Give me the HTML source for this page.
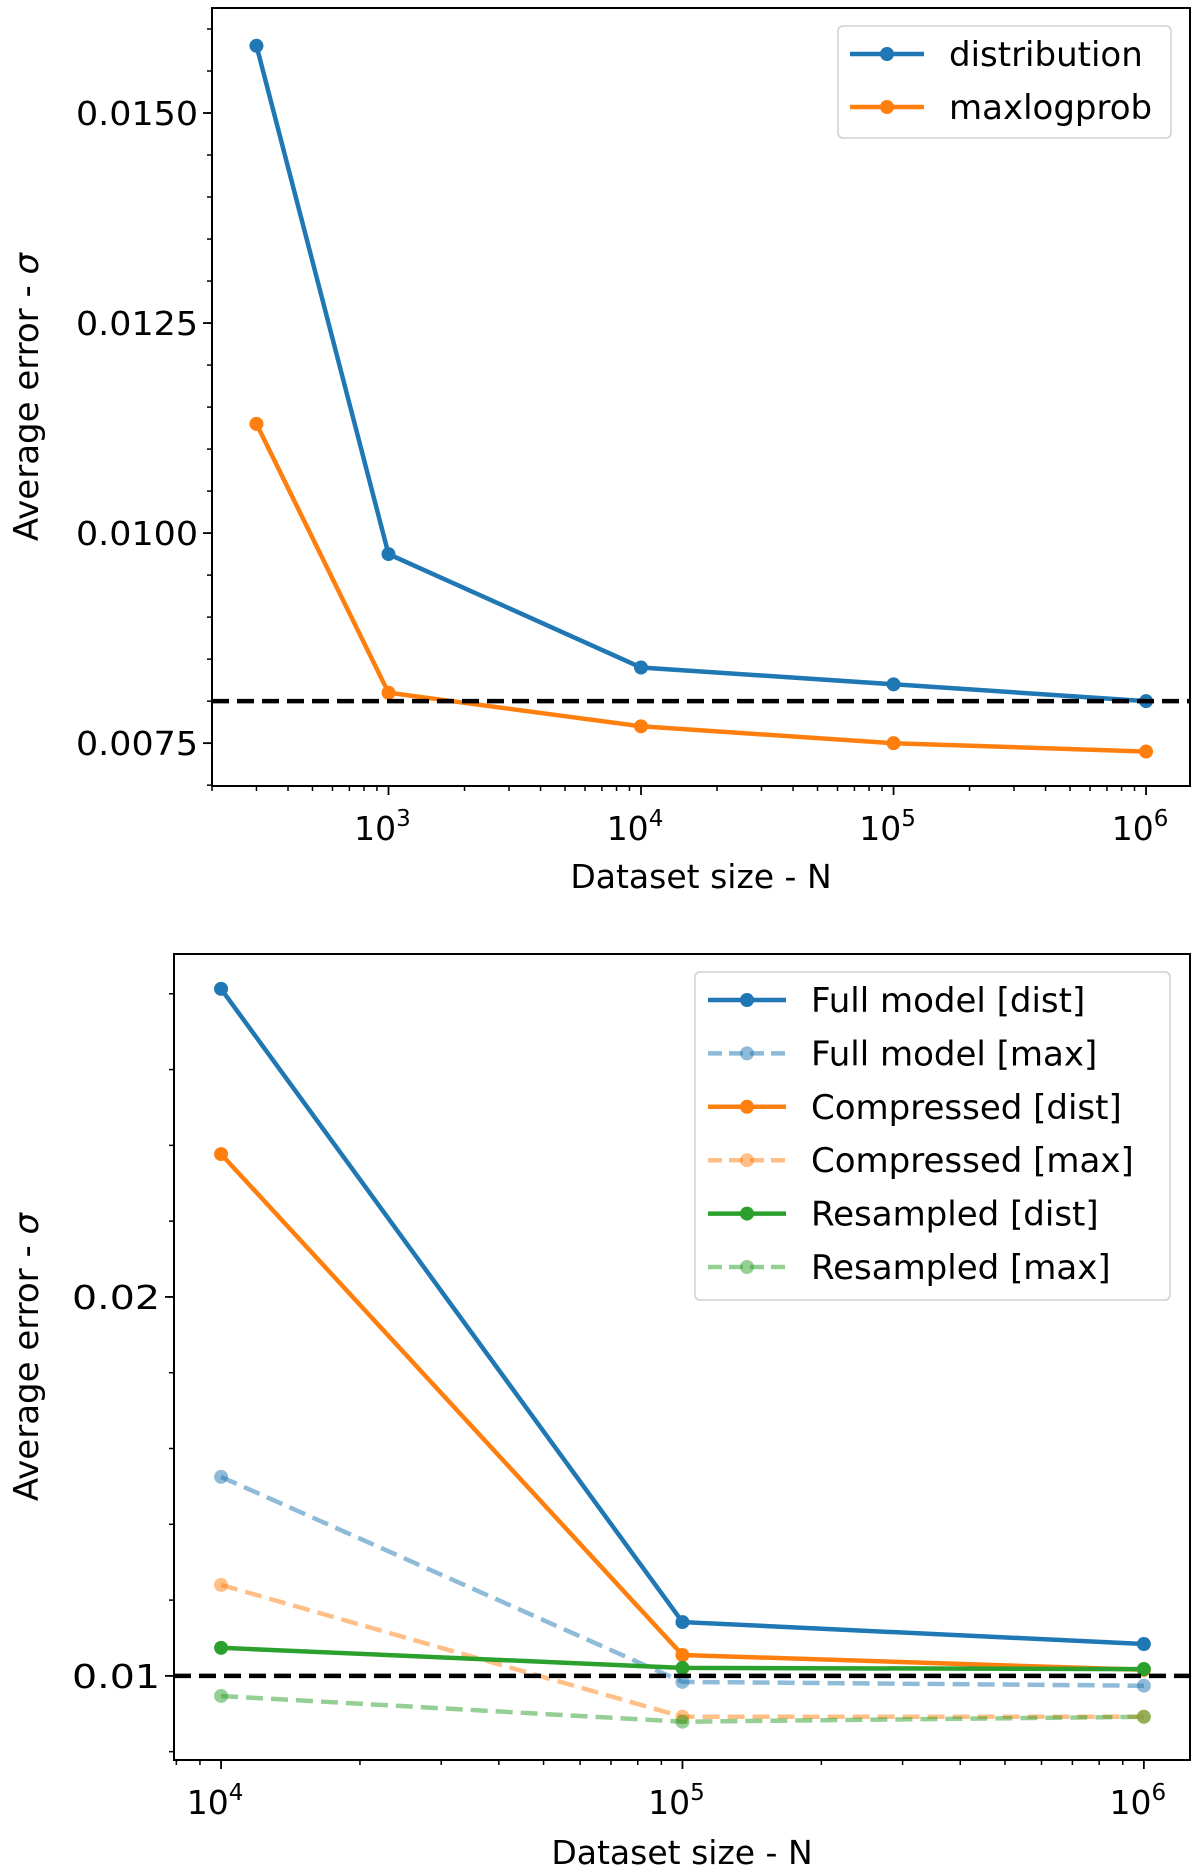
<!DOCTYPE html>
<html><head><meta charset="utf-8"><style>
body{margin:0;background:#fff}
svg{display:block;font-family:"DejaVu Sans","Liberation Sans",sans-serif}
</style></head><body>
<svg id="c" width="1200" height="1875" viewBox="0 0 1200 1875"></svg>
<script>
// Top chart data
const topX = [300, 1000, 10000, 100000, 1000000];
const topDist = [0.0158, 0.00975, 0.0084, 0.0082, 0.0080];
const topMax = [0.0113, 0.0081, 0.0077, 0.0075, 0.0074];
const topYTicks = [0.0075, 0.0100, 0.0125, 0.0150];
const topYTickLabels = ["0.0075", "0.0100", "0.0125", "0.0150"];
const topXTicks = [3, 4, 5, 6];
const topRef = 0.008;
// Bottom chart data
const botX = [10000, 100000, 1000000];
const fullDist = [0.02813, 0.01142, 0.01084];
const fullMax = [0.01525, 0.00984, 0.00974];
const compDist = [0.02377, 0.01055, 0.01016];
const compMax = [0.0124, 0.00892, 0.00892];
const resDist = [0.01074, 0.01021, 0.01018];
const resMax = [0.00947, 0.00879, 0.00892];
const botYTicks = [0.01, 0.02];
const botYTickLabels = ["0.01", "0.02"];
const botXTicks = [4, 5, 6];
const botRef = 0.01;

const NS = "http://www.w3.org/2000/svg";
const svg = document.getElementById('c');
function mk(tag, attrs, parent, name){
  const e = document.createElementNS(NS, tag);
  for (const k in attrs) e.setAttribute(k, attrs[k]);
  
  
  (parent||svg).appendChild(e);
  return e;
}
function chart(cfg){
  const g = mk('g', {}, svg, cfg.name);
  const L=cfg.left,R=cfg.right,T=cfg.top,B=cfg.bottom;
  const xs = v => L + (Math.log10(v)-cfg.xmin)/(cfg.xmax-cfg.xmin)*(R-L);
  const ys = v => B - (v-cfg.ymin)/(cfg.ymax-cfg.ymin)*(B-T);
  for (let v=Math.ceil(cfg.ymin/cfg.yminor)*cfg.yminor; v<=cfg.ymax; v+=cfg.yminor){
    const y=ys(v);
    mk('line',{x1:L-5,x2:L,y1:y,y2:y,stroke:'#000','stroke-width':1.5},g,'y-minor-tick');
  }
  cfg.yticks.forEach((v,i)=>{
    const y=ys(v);
    mk('line',{x1:L-9,x2:L,y1:y,y2:y,stroke:'#000','stroke-width':1.8},g,'y-tick');
    const t=mk('text',{x:L-14,y:y+12,'text-anchor':'end','font-size':33,'textLength':cfg.tlen,'lengthAdjust':'spacingAndGlyphs'},g,'y-tick-label');
    t.textContent=cfg.ylabels[i];
  });
  for (let d=Math.floor(cfg.xmin); d<cfg.xmax; d++){
    for (let m=2;m<=9;m++){
      const lv=d+Math.log10(m);
      if(lv<cfg.xmin||lv>cfg.xmax) continue;
      const x=xs(Math.pow(10,lv));
      mk('line',{x1:x,x2:x,y1:B,y2:B+5,stroke:'#000','stroke-width':1.5},g,'x-minor-tick');
    }
  }
  cfg.xticks.forEach(p=>{
    const x=xs(Math.pow(10,p));
    mk('line',{x1:x,x2:x,y1:B,y2:B+9,stroke:'#000','stroke-width':1.8},g,'x-tick');
    const t=mk('text',{x:x-6,y:B+54,'text-anchor':'middle','font-size':33},g,'x-tick-label');
    t.textContent='10';
    const s=mk('tspan',{dy:-14,'font-size':23},t,'x-tick-exponent');
    s.textContent=String(p);
  });
  cfg.series.forEach(s=>{
    const pts=cfg.x.map((xv,i)=>xs(xv).toFixed(1)+','+ys(s.v[i]).toFixed(1)).join(' ');
    mk('polyline',{points:pts,fill:'none',stroke:s.c,'stroke-width':4.5,'stroke-dasharray':s.dash?'17,8':'none',opacity:s.op||1},g,s.name+'-line');
    cfg.x.forEach((xv,i)=>{
      mk('circle',{cx:xs(xv),cy:ys(s.v[i]),r:7,fill:s.c,opacity:s.op||1},g,s.name+'-point');
    });
  });
  const ry=ys(cfg.ref);
  mk('line',{x1:L,x2:R,y1:ry,y2:ry,stroke:'#000','stroke-width':4.5,'stroke-dasharray':'17,8'},g,'reference-line');
  mk('rect',{x:L,y:T,width:R-L,height:B-T,fill:'none',stroke:'#000','stroke-width':2},g,'plot-frame');
  const xl=mk('text',{x:(L+R)/2,y:cfg.xlabelY,'text-anchor':'middle','font-size':33},g,'x-axis-title');
  xl.textContent='Dataset size - N';
  const yc=(T+B)/2;
  const yl=mk('text',{x:38,y:yc,'text-anchor':'middle','font-size':34,transform:`rotate(-90 38 ${yc})`},g,'y-axis-title');
  yl.textContent='Average error - ';
  const sg=mk('tspan',{'font-style':'italic'},yl,'sigma-symbol'); sg.textContent='σ';
  const lg=cfg.legend;
  mk('rect',{x:lg.x,y:lg.y,width:lg.w,height:lg.h,rx:5,fill:'#fff',stroke:'#ccc','stroke-width':1.5,opacity:0.9},g,'legend-box');
  cfg.series.forEach((s,i)=>{
    const yy=lg.y0+i*lg.dy;
    mk('line',{x1:lg.lx,x2:lg.lx+lg.lw,y1:yy,y2:yy,stroke:s.c,'stroke-width':4.5,'stroke-dasharray':s.dash?'14,7':'none',opacity:s.op||1},g,'legend-line');
    mk('circle',{cx:lg.lx+lg.lw/2,cy:yy,r:7,fill:s.c,opacity:s.op||1},g,'legend-marker');
    const t=mk('text',{x:lg.tx,y:yy+12,'font-size':lg.fs},g,'legend-entry');
    t.textContent=s.label;
  });
}
chart({name:'top-chart',left:212,right:1190,top:8,bottom:786,xmin:Math.log10(200),xmax:6.174,ymin:0.00699,ymax:0.01625,
  yminor:0.0005,yticks:topYTicks,ylabels:topYTickLabels,xticks:topXTicks,x:topX,ref:topRef,xlabelY:888,tlen:122,
  series:[{name:'distribution',label:'distribution',v:topDist,c:'#1f77b4'},{name:'maxlogprob',label:'maxlogprob',v:topMax,c:'#ff7f0e'}],
  legend:{x:838,y:26,w:333,h:112,lx:850,lw:74,tx:949,y0:54,dy:53,fs:34}});
chart({name:'bottom-chart',left:174,right:1190,top:954,bottom:1760,xmin:3.898,xmax:6.10,ymin:0.00778,ymax:0.02905,
  yminor:0.002,yticks:botYTicks,ylabels:botYTickLabels,xticks:botXTicks,x:botX,ref:botRef,xlabelY:1864,tlen:88,
  series:[{name:'full-dist',label:'Full model [dist]',v:fullDist,c:'#1f77b4'},
          {name:'full-max',label:'Full model [max]',v:fullMax,c:'#1f77b4',dash:1,op:0.5},
          {name:'comp-dist',label:'Compressed [dist]',v:compDist,c:'#ff7f0e'},
          {name:'comp-max',label:'Compressed [max]',v:compMax,c:'#ff7f0e',dash:1,op:0.5},
          {name:'res-dist',label:'Resampled [dist]',v:resDist,c:'#2ca02c'},
          {name:'res-max',label:'Resampled [max]',v:resMax,c:'#2ca02c',dash:1,op:0.5}],
  legend:{x:695,y:972,w:475,h:328,lx:708,lw:78,tx:811,y0:1000,dy:53.4,fs:34}});
</script>
</body></html>
